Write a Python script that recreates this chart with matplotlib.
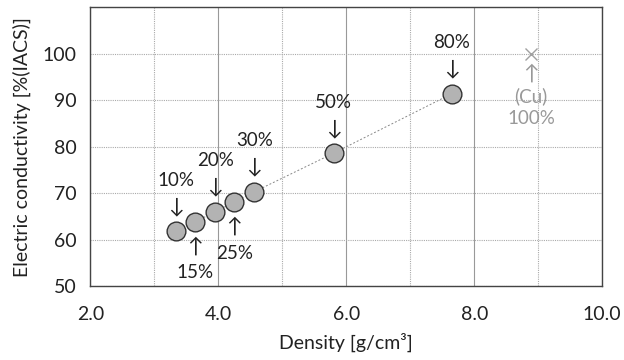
import matplotlib
matplotlib.use("Agg")
import matplotlib.pyplot as plt

plt.rcParams["font.family"] = ["Lato", "DejaVu Sans"]

# Al-Cu clad ratio data
density = [3.33, 3.64, 3.95, 4.25, 4.56, 5.80, 7.65]
conductivity = [61.8, 63.9, 66.0, 68.1, 70.3, 78.6, 91.4]
labels = ["10%", "15%", "20%", "25%", "30%", "50%", "80%"]
above = [True, False, True, False, True, True, True]

cu_density = 8.89
cu_conductivity = 100.0

fig, ax = plt.subplots(figsize=(6.24, 3.6), dpi=100)
fig.subplots_adjust(left=0.145, right=0.965, top=0.98, bottom=0.205)

ax.plot(density, conductivity, ls=(0, (2, 2)), lw=0.7, color="#888888", zorder=2)
ax.plot(density, conductivity, "o", ms=13.5, mfc="#b3b3b3", mec="#333333", mew=1.0, ls="none", zorder=3)
ax.plot([cu_density], [cu_conductivity], "x", ms=9, mew=1.0, color="#a0a0a0", zorder=3)

PX = 0.72  # pixel -> point
FS = 13.5
for x, y, lab, up in zip(density, conductivity, labels, above):
    s = 1 if up else -1
    ax.annotate("↓" if up else "↑", (x, y), xytext=(0, s * 25 * PX), textcoords="offset points",
                ha="center", va="center", fontsize=15, color="#222222")
    ax.annotate(lab, (x, y), xytext=(0, s * 51 * PX), textcoords="offset points",
                ha="center", va="center", fontsize=FS, color="#222222")

gray = "#999999"
ax.annotate("↑", (cu_density, cu_conductivity), xytext=(0, -20 * PX), textcoords="offset points",
            ha="center", va="center", fontsize=15, color=gray)
ax.annotate("(Cu)", (cu_density, cu_conductivity), xytext=(0, -43 * PX), textcoords="offset points",
            ha="center", va="center", fontsize=FS, color=gray)
ax.annotate("100%", (cu_density, cu_conductivity), xytext=(0, -65 * PX), textcoords="offset points",
            ha="center", va="center", fontsize=FS, color=gray)

ax.set_xlim(2, 10)
ax.set_ylim(50, 110)
ax.set_xticks([2, 4, 6, 8, 10])
ax.set_xticklabels(["2.0", "4.0", "6.0", "8.0", "10.0"])
ax.set_xticks([3, 5, 7, 9], minor=True)
ax.set_yticks([50, 60, 70, 80, 90, 100])
ax.set_yticks([110], minor=True)

ax.grid(True, which="major", axis="x", color="#999999", lw=0.8)
ax.grid(True, which="minor", axis="x", color="#aaaaaa", lw=0.8, ls=(0, (1, 1)))
ax.grid(True, which="both", axis="y", color="#aaaaaa", lw=0.8, ls=(0, (1, 1)))
ax.set_axisbelow(True)

ax.tick_params(which="both", length=0, labelsize=14, colors="#222222")
ax.tick_params(axis="x", pad=14)
ax.tick_params(axis="y", pad=10)
for sp in ax.spines.values():
    sp.set_color("#444444")
    sp.set_linewidth(1.0)

ax.set_xlabel("Density [g/cm³]", fontsize=14, color="#222222", labelpad=7)
ax.set_ylabel("Electric conductivity [%(IACS)]", fontsize=14, color="#222222", labelpad=8)

fig.savefig("out.png", dpi=100)
